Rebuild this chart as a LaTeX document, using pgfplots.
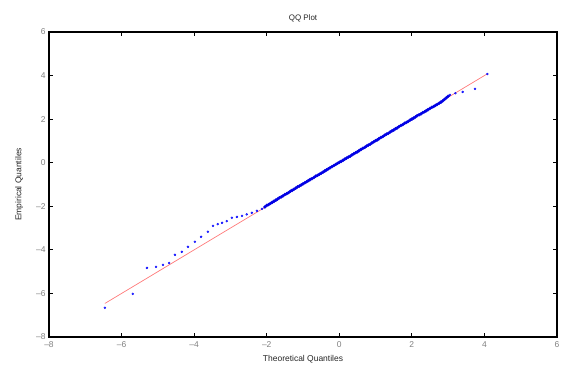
\documentclass[border=0pt]{standalone}
\usepackage{pgfplots}
\pgfplotsset{compat=1.18}
\usepackage{fontspec}
\setmainfont{Liberation Sans}
\definecolor{qqred}{RGB}{255,120,120}
\definecolor{qqblue}{RGB}{0,0,255}
\begin{document}
\begin{tikzpicture}[x=1bp,y=1bp]
\useasboundingbox (-49bp,-28bp) rectangle (513bp,337bp);
\begin{axis}[
  at={(0,0)}, anchor=south west,
  scale only axis, width=508bp, height=305bp,
  xmin=-8, xmax=6, ymin=-8, ymax=6,
  xtick={-8,-6,...,6}, ytick={-8,-6,...,6},
  tick align=inside, major tick length=4bp,
  tick style={black, line width=1.2pt},
  axis line style={line width=1.6pt},
  /pgf/number format/assume math mode=true,
  xticklabels={\textendash8,\textendash6,\textendash4,\textendash2,0,2,4,6},
  yticklabels={\textendash8,\textendash6,\textendash4,\textendash2,0,2,4,6},
  tick label style={font=\fontsize{8.5}{9}\selectfont, text=black!50},
  xticklabel style={yshift=-1pt},
  title={QQ Plot}, title style={font=\fontsize{8}{9}\selectfont, text=black!85, yshift=0bp},
  xlabel={Theoretical Quantiles}, ylabel={Empirical Quantiles},
  label style={font=\fontsize{8.5}{9}\selectfont, text=black!85},
  xlabel style={yshift=-1bp},
  ylabel style={yshift=6bp},
]
\addplot[qqred, line width=0.7pt] coordinates {(-6.46,-6.46) (4.08,4.08)};
\addplot[only marks, mark=*, mark size=1bp, qqblue, mark options={draw=none, fill opacity=0.7}] table {
x y
-6.46 -6.66
-5.69 -6.02
-5.30 -4.83
-5.05 -4.78
-4.86 -4.69
-4.69 -4.60
-4.53 -4.23
-4.34 -4.09
-4.17 -3.86
-3.98 -3.63
-3.81 -3.40
-3.62 -3.17
-3.48 -2.90
-3.35 -2.82
-3.23 -2.76
-3.10 -2.68
-2.96 -2.53
-2.82 -2.49
-2.68 -2.44
-2.55 -2.37
-2.41 -2.30
-2.27 -2.21
-2.13 -2.12
3.05 3.11
3.20 3.19
3.40 3.25
3.74 3.39
4.08 4.07
};
\addplot[only marks, mark=*, mark size=1.5bp, qqblue!90!black, mark options={draw=none}] table {
x y
-2.05 -2.03
-2.00 -1.96
-1.95 -1.92
-1.90 -1.87
-1.85 -1.82
-1.80 -1.77
-1.75 -1.72
-1.70 -1.67
-1.65 -1.61
-1.60 -1.57
-1.55 -1.52
-1.50 -1.46
-1.45 -1.42
-1.40 -1.37
-1.35 -1.31
-1.30 -1.27
-1.25 -1.22
-1.20 -1.17
-1.15 -1.11
-1.10 -1.07
-1.05 -1.02
-1.00 -0.97
-0.95 -0.92
-0.90 -0.87
-0.85 -0.82
-0.80 -0.77
-0.75 -0.73
-0.70 -0.68
-0.65 -0.62
-0.60 -0.58
-0.55 -0.53
-0.50 -0.48
-0.45 -0.43
-0.40 -0.38
-0.35 -0.33
-0.30 -0.28
-0.25 -0.23
-0.20 -0.18
-0.15 -0.13
-0.10 -0.08
-0.05 -0.03
0.00 0.02
0.05 0.06
0.10 0.11
0.15 0.16
0.20 0.21
0.25 0.26
0.30 0.30
0.35 0.36
0.40 0.41
0.45 0.46
0.50 0.50
0.55 0.56
0.60 0.61
0.65 0.66
0.70 0.70
0.75 0.76
0.80 0.81
0.85 0.85
0.90 0.91
0.95 0.96
1.00 1.01
1.05 1.05
1.10 1.11
1.15 1.16
1.20 1.20
1.25 1.26
1.30 1.31
1.35 1.35
1.40 1.41
1.45 1.46
1.50 1.50
1.55 1.56
1.60 1.60
1.65 1.66
1.70 1.71
1.75 1.75
1.80 1.81
1.85 1.85
1.90 1.90
1.95 1.96
2.00 2.00
2.05 2.05
2.10 2.10
2.15 2.16
2.20 2.20
2.25 2.24
2.30 2.30
2.35 2.34
2.40 2.39
2.45 2.44
2.50 2.49
2.55 2.54
2.60 2.58
2.65 2.63
2.70 2.68
2.75 2.73
2.80 2.78
2.85 2.84
2.90 2.91
2.95 2.98
3.00 3.05
};
\end{axis}
\end{tikzpicture}
\end{document}
